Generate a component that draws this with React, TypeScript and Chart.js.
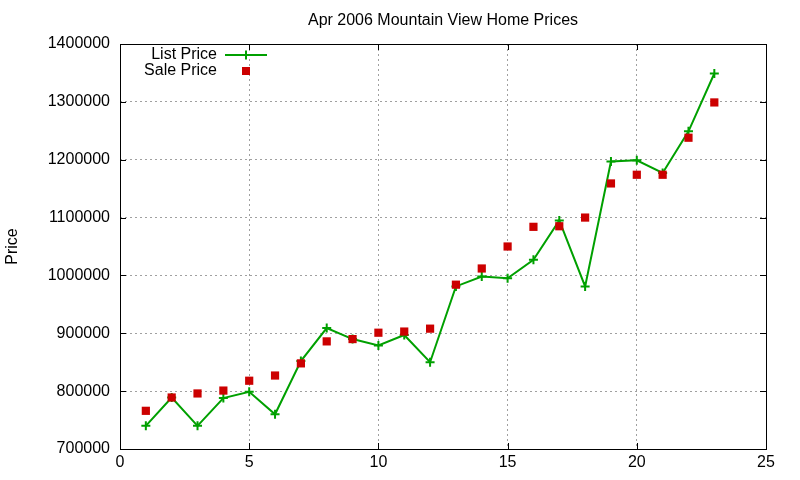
import { useEffect, useRef } from "react";
import Chart from "chart.js/auto";

const TITLE = "Apr 2006 Mountain View Home Prices";
const Y_TITLE = "Price";

const days = [1, 2, 3, 4, 5, 6, 7, 8, 9, 10, 11, 12, 13, 14, 15, 16, 17, 18, 19, 20, 21, 22, 23];
const listPrice = [
	740000, 789000, 740000, 788000, 799000, 760000, 852000, 909000, 890000, 879000, 897000, 850000,
	981000, 998000, 995000, 1027000, 1095000, 981000, 1197000, 1199000, 1177000, 1249000, 1349000
];
const salePrice = [
	766000, 789000, 796000, 801000, 818000, 827000, 848000, 886000, 890000, 901000, 903000, 908000,
	984000, 1012000, 1050000, 1084000, 1085000, 1100000, 1159000, 1174000, 1174000, 1238000, 1299000
];

const FONT = "'Liberation Sans', Arial, sans-serif";
const FONT_SIZE = 16;
const GREEN = "#00a000";
const RED = "#cc0000";

// gnuplot-ish frame: full border, inward ticks on all sides, centred title, key
const framePlugin = {
	id: "frame",
	beforeDatasetsDraw(chart: Chart) {
		const { ctx, chartArea: a } = chart;
		const xs = chart.scales.x;
		const ys = chart.scales.y;
		ctx.save();
		ctx.strokeStyle = "#000";
		ctx.lineWidth = 1;
		ctx.beginPath();
		for (const t of ys.ticks) {
			const py = Math.round(ys.getPixelForValue(t.value)) + 0.5;
			ctx.moveTo(a.left, py);
			ctx.lineTo(a.left + 6, py);
			ctx.moveTo(a.right, py);
			ctx.lineTo(a.right - 6, py);
		}
		for (const t of xs.ticks) {
			const px = Math.round(xs.getPixelForValue(t.value)) + 0.5;
			ctx.moveTo(px, a.bottom);
			ctx.lineTo(px, a.bottom - 6);
			ctx.moveTo(px, a.top);
			ctx.lineTo(px, a.top + 6);
		}
		ctx.stroke();
		ctx.strokeRect(Math.round(a.left) + 0.5, Math.round(a.top) + 0.5, Math.round(a.right - a.left), Math.round(a.bottom - a.top));
		ctx.restore();
	},
	afterDraw(chart: Chart) {
		const { ctx, chartArea: a } = chart;
		ctx.save();
		ctx.fillStyle = "#000";
		ctx.font = `${FONT_SIZE}px ${FONT}`;
		ctx.textAlign = "center";
		ctx.textBaseline = "middle";
		ctx.fillText(TITLE, (a.left + a.right) / 2, 21);

		// key
		const textX = a.left + 97;
		const sampleX = a.left + 126;
		const row1 = a.top + 11;
		const row2 = a.top + 27;
		ctx.textAlign = "right";
		ctx.fillText(chart.data.datasets[1].label as string, textX, row1);
		ctx.fillText(chart.data.datasets[0].label as string, textX, row2);
		ctx.strokeStyle = GREEN;
		ctx.lineWidth = 2;
		ctx.beginPath();
		ctx.moveTo(sampleX - 21, row1);
		ctx.lineTo(sampleX + 21, row1);
		ctx.moveTo(sampleX, row1 - 4.5);
		ctx.lineTo(sampleX, row1 + 4.5);
		ctx.stroke();
		ctx.fillStyle = RED;
		ctx.fillRect(sampleX - 4, row2 - 4, 8, 8);
		ctx.restore();
	}
};

export default function App() {
	const canvasRef = useRef<HTMLCanvasElement>(null);

	useEffect(() => {
		if (!canvasRef.current) return;
		const chart = new Chart(canvasRef.current, {
			type: "line",
			data: {
				datasets: [
					{
						label: "Sale Price",
						data: days.map((d, i) => ({ x: d, y: salePrice[i] })),
						showLine: false,
						pointStyle: "rect",
						pointRadius: 5.8,
						pointBorderWidth: 0,
						pointBackgroundColor: RED,
						pointBorderColor: RED,
						order: 0
					},
					{
						label: "List Price",
						data: days.map((d, i) => ({ x: d, y: listPrice[i] })),
						borderColor: GREEN,
						borderWidth: 2,
						tension: 0,
						pointStyle: "cross",
						pointRadius: 4.5,
						pointBorderWidth: 2,
						pointBorderColor: GREEN,
						pointBackgroundColor: GREEN,
						order: 1
					}
				]
			},
			options: {
				animation: false,
				responsive: true,
				maintainAspectRatio: false,
				layout: { padding: { top: 44, right: 34, bottom: 0, left: 0 } },
				plugins: {
					legend: { display: false },
					title: { display: false },
					tooltip: { enabled: false }
				},
				scales: {
					x: {
						type: "linear",
						min: 0,
						max: 25,
						ticks: {
							stepSize: 5,
							color: "#000",
							padding: 4,
							font: { family: FONT, size: FONT_SIZE }
						},
						grid: { color: "#a0a0a0", lineWidth: 1, drawTicks: false },
						border: { display: false, dash: [2, 3] },
						afterFit: (s: any) => {
							s.height = 31;
						}
					},
					y: {
						type: "linear",
						min: 700000,
						max: 1400000,
						ticks: {
							stepSize: 100000,
							color: "#000",
							padding: 10,
							font: { family: FONT, size: FONT_SIZE },
							callback: (v: any) => String(v)
						},
						grid: { color: "#a0a0a0", lineWidth: 1, drawTicks: false },
						border: { display: false, dash: [2, 3] },
						title: {
							display: true,
							text: Y_TITLE,
							color: "#000",
							font: { family: FONT, size: FONT_SIZE },
							padding: { top: 3, bottom: 4 }
						},
						afterFit: (s: any) => {
							s.width = 120;
						}
					}
				}
			},
			plugins: [framePlugin]
		});
		return () => {
			chart.destroy();
		};
	}, []);

	return (
		<div
			style={{
				position: "fixed",
				left: 0,
				top: 0,
				width: 800,
				height: 480,
				background: "#fff"
			}}
		>
			<canvas ref={canvasRef} style={{ width: "100%", height: "100%" }} />
		</div>
	);
}
